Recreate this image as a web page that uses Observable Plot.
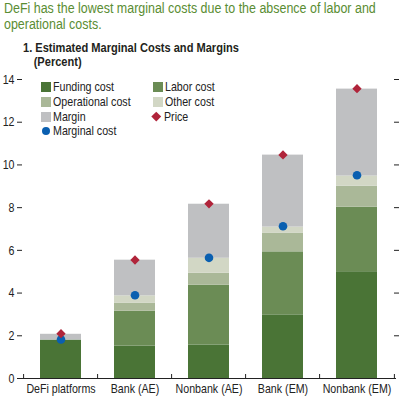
<!DOCTYPE html>
<html>
<head>
<meta charset="utf-8">
<script src="https://cdn.jsdelivr.net/npm/d3@7"></script>
<script src="https://cdn.jsdelivr.net/npm/@observablehq/plot@0.6"></script>
<style>
  html, body { margin: 0; padding: 0; background: #fff; }
  #wrap { position: relative; width: 403px; height: 401px; overflow: hidden;
    font-family: "Liberation Sans", Arial, sans-serif; color: #222; }
  .n { display: inline-block; transform: scaleX(0.82); transform-origin: 0 0; white-space: nowrap; }
  .sub { position: absolute; left: 4px; top: 0px; font-size: 15.2px; line-height: 15.5px; color: #5a8d33; white-space: nowrap; }
  .title { position: absolute; left: 23px; top: 41px; font-size: 13.5px; line-height: 14px; font-weight: bold; color: #231f20; white-space: nowrap; }
  .title .p { padding-left: 13px; }
  #chart { position: absolute; left: 0; top: 70px; }
  .leg { position: absolute; font-size: 13px; line-height: 14px; white-space: nowrap; color: #222; }
  .sw { display: inline-block; width: 10px; height: 10px; vertical-align: -1px; margin-right: 2px; }
  .dot { display: inline-block; width: 8px; height: 8px; border-radius: 50%; vertical-align: 0px; margin-right: 3px; margin-left: 1px; }
  .dia { display: inline-block; width: 6.5px; height: 6.5px; transform: rotate(45deg); vertical-align: 1px; margin-right: 4px; margin-left: 2px; }
</style>
</head>
<body>
<div id="wrap">
  <div class="sub"><span class="n">DeFi has the lowest marginal costs due to the absence of labor and<br>operational costs.</span></div>
  <div class="title"><span class="n">1. Estimated Marginal Costs and Margins<br><span class="p">(Percent)</span></span></div>
  <div id="chart"></div>
  <div id="legend"></div>
</div>
<script>
const categories = ["DeFi platforms", "Bank (AE)", "Nonbank (AE)", "Bank (EM)", "Nonbank (EM)"];
const components = ["Funding cost", "Labor cost", "Operational cost", "Other cost", "Margin"];
const componentColors = ["#4a7436", "#6b8c55", "#aab898", "#d2d7c5", "#bfc0c2"];
const fundingCost = [1.8, 1.52, 1.57, 2.98, 5.0];
const laborCost = [0, 1.63, 2.8, 2.95, 3.02];
const operationalCost = [0, 0.38, 0.56, 0.88, 0.98];
const otherCost = [0, 0.34, 0.7, 0.28, 0.48];
const margin = [0.27, 1.67, 2.53, 3.37, 4.07];
const price = [2.1, 5.55, 8.18, 10.47, 13.57];
const marginalCost = [1.83, 3.9, 5.65, 7.13, 9.52];
const yTicks = [0, 2, 4, 6, 8, 10, 12, 14];
const priceColor = "#b0243a";
const mcColor = "#0a5fb0";

const series = [fundingCost, laborCost, operationalCost, otherCost, margin];
const rows = [];
categories.forEach((c, i) => {
  components.forEach((k, j) => rows.push({category: c, component: k, value: series[j][i]}));
});
const points = categories.map((c, i) => ({category: c, price: price[i], mc: marginalCost[i]}));

const width = 403, height = 331, mL = 22, mR = 7;
const step = (width - mL - mR) / categories.length;

const chart = Plot.plot({
  width, height,
  marginTop: 9, marginBottom: 23, marginLeft: mL, marginRight: mR,
  style: {fontFamily: '"Liberation Sans", Arial, sans-serif', fontSize: "13px", color: "#222", background: "#fff"},
  x: {domain: categories, paddingInner: 0.44, paddingOuter: 0.22, axis: null},
  y: {domain: [0, 14], axis: null},
  color: {domain: components, range: componentColors},
  marks: [
    Plot.barY(rows, {x: "category", y: "value", fill: "component"}),
    Plot.axisY({anchor: "left", ticks: yTicks, tickSize: 5, tickPadding: 3, stroke: "#222", label: null}),
    Plot.axisY({anchor: "right", ticks: yTicks.slice(1), tickSize: 5, dx: -3, tickFormat: () => "", stroke: "#222", label: null}),
    Plot.ruleY([0], {stroke: "#222"}),
    Plot.ruleX(categories, {x: d => d, y1: 0, y2: 0, insetBottom: 4, dx: -step / 2, stroke: "#222"}),
    Plot.ruleX(categories.slice(-1), {x: d => d, y1: 0, y2: 0, insetBottom: 4, dx: step / 2, stroke: "#222"}),
    Plot.axisX({tickSize: 0, tickPadding: 5.5, fill: "#222", label: null}),
    Plot.dot(points, {x: "category", y: "mc", r: 4.3, fill: mcColor, stroke: "none"}),
    Plot.dot(points, {x: "category", y: "price", r: 4.2, symbol: "diamond2", fill: priceColor, stroke: "none"})
  ]
});
document.getElementById("chart").appendChild(chart);

// condense SVG text horizontally around its anchor (Arial Narrow look)
chart.querySelectorAll("text").forEach(t => {
  const x = parseFloat(t.getAttribute("x")) || 0;
  const y = parseFloat(t.getAttribute("y")) || 0;
  const tr = t.getAttribute("transform") || "";
  t.setAttribute("transform", `${tr} translate(${x},${y}) scale(0.82,1) translate(${-x},${-y})`);
});

// legend
const legendItems = [
  {label: "Funding cost", color: componentColors[0], kind: "sw", left: 41, top: 80},
  {label: "Labor cost", color: componentColors[1], kind: "sw", left: 153, top: 80},
  {label: "Operational cost", color: componentColors[2], kind: "sw", left: 41, top: 94.5},
  {label: "Other cost", color: componentColors[3], kind: "sw", left: 153, top: 94.5},
  {label: "Margin", color: componentColors[4], kind: "sw", left: 41, top: 109.5},
  {label: "Price", color: priceColor, kind: "dia", left: 151, top: 109.5},
  {label: "Marginal cost", color: mcColor, kind: "dot", left: 41, top: 124}
];
const lg = document.getElementById("legend");
legendItems.forEach(it => {
  const d = document.createElement("div");
  d.className = "leg";
  d.style.left = it.left + "px";
  d.style.top = it.top + "px";
  const inner = document.createElement("span");
  inner.className = "n";
  const s = document.createElement("span");
  s.className = it.kind;
  s.style.background = it.color;
  d.appendChild(s);
  inner.appendChild(document.createTextNode(it.label));
  d.appendChild(inner);
  lg.appendChild(d);
});
</script>
</body>
</html>
